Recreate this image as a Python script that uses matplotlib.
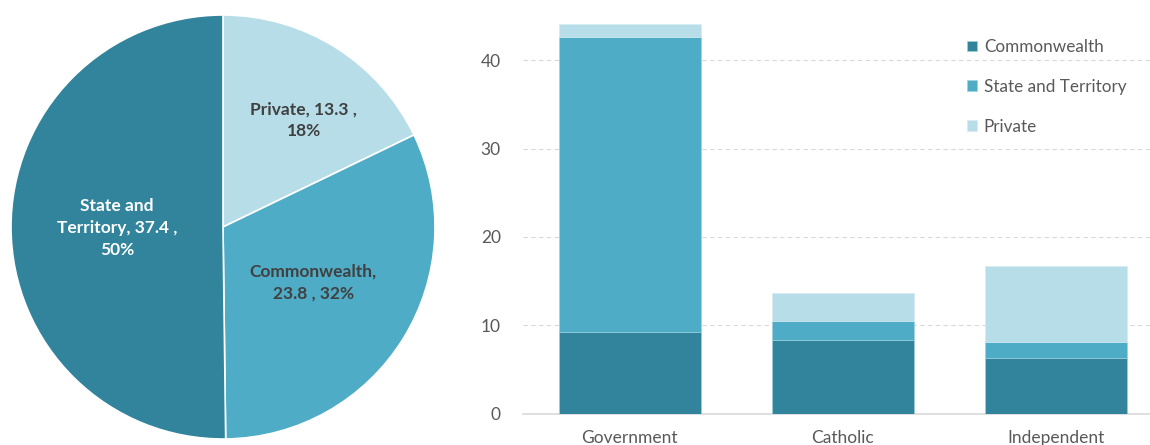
import matplotlib
matplotlib.use('Agg')
import matplotlib.pyplot as plt
import numpy as np

plt.rcParams['font.family'] = ['Lato', 'DejaVu Sans']

# pie data (drawn clockwise from 12 o'clock)
pie_labels = ['Private', 'Commonwealth', 'State and\nTerritory']
pie_values = [13.3, 23.8, 37.4]
pie_pcts = ['18%', '32%', '50%']

# stacked bar data
sectors = ['Government', 'Catholic', 'Independent']
commonwealth = [9.2, 8.3, 6.3]
state = [33.4, 2.2, 1.8]
private = [1.5, 3.2, 8.6]

c_comm = '#31849b'
c_state = '#4facc6'
c_priv = '#b7dee8'
grey = '#595959'

fig = plt.figure(figsize=(11.5, 4.45), dpi=100)

# ---- pie ----
axp = fig.add_axes([11/1150, 6/445, 424/1150, 424/445])
wedges, _ = axp.pie(pie_values, colors=[c_priv, c_state, c_comm], startangle=90,
                    counterclock=False, wedgeprops=dict(edgecolor='white', linewidth=1.2))
texts = ['Private, 13.3 ,\n18%', 'Commonwealth,\n23.8 , 32%', 'State and\nTerritory, 37.4 ,\n50%']
radii = [0.63, 0.5, 0.5]
shift = [-5, 0, 0]  # small angular nudge, degrees
tcols = ['#404040', '#404040', 'white']
for w, t, r, d, tc in zip(wedges, texts, radii, shift, tcols):
    ang = np.deg2rad((w.theta1 + w.theta2) / 2 + d)
    axp.text(r*np.cos(ang), r*np.sin(ang), t, ha='center', va='center',
             fontsize=12.5, fontweight='bold', color=tc, linespacing=1.45)
axp.set_xlim(-1, 1)
axp.set_ylim(-1, 1)
axp.set_aspect('equal')

# ---- stacked bars ----
ax = fig.add_axes([523/1150, 31.3/445, 627/1150, 413.7/445])
x = np.arange(len(sectors))
bw = 0.667
ax.bar(x, commonwealth, bw, color=c_comm, label='Commonwealth', edgecolor='#9fd0dc', linewidth=0.4, zorder=3)
bottom2 = np.array(commonwealth)
ax.bar(x, state, bw, bottom=bottom2, color=c_state, label='State and Territory', edgecolor='#9fd0dc', linewidth=0.4, zorder=3)
bottom3 = bottom2 + np.array(state)
ax.bar(x, private, bw, bottom=bottom3, color=c_priv, label='Private', edgecolor='#d5ecf2', linewidth=0.4, zorder=3)

ax.set_xlim(-0.5, 2.44)
ax.set_ylim(0, 46.8)
ax.set_yticks([0, 10, 20, 30, 40])
ax.set_xticks(x)
ax.set_xticklabels(sectors)
ax.tick_params(axis='both', length=0, colors=grey, labelsize=12.5)
ax.tick_params(axis='y', pad=16)
ax.tick_params(axis='x', pad=12)
ax.yaxis.grid(True, linestyle=(0, (4, 3)), color='#d9d9d9', linewidth=0.8, zorder=0)
for s in ['top', 'right', 'left']:
    ax.spines[s].set_visible(False)
ax.spines['bottom'].set_color('#d9d9d9')
ax.spines['bottom'].set_linewidth(1.2)

ax.legend(loc='upper right', bbox_to_anchor=(0.987, 0.943), frameon=False, fontsize=12.3,
          handlelength=0.6, handleheight=0.6, handletextpad=0.4, labelspacing=1.4,
          labelcolor=grey)

fig.savefig('out.png', dpi=100)
